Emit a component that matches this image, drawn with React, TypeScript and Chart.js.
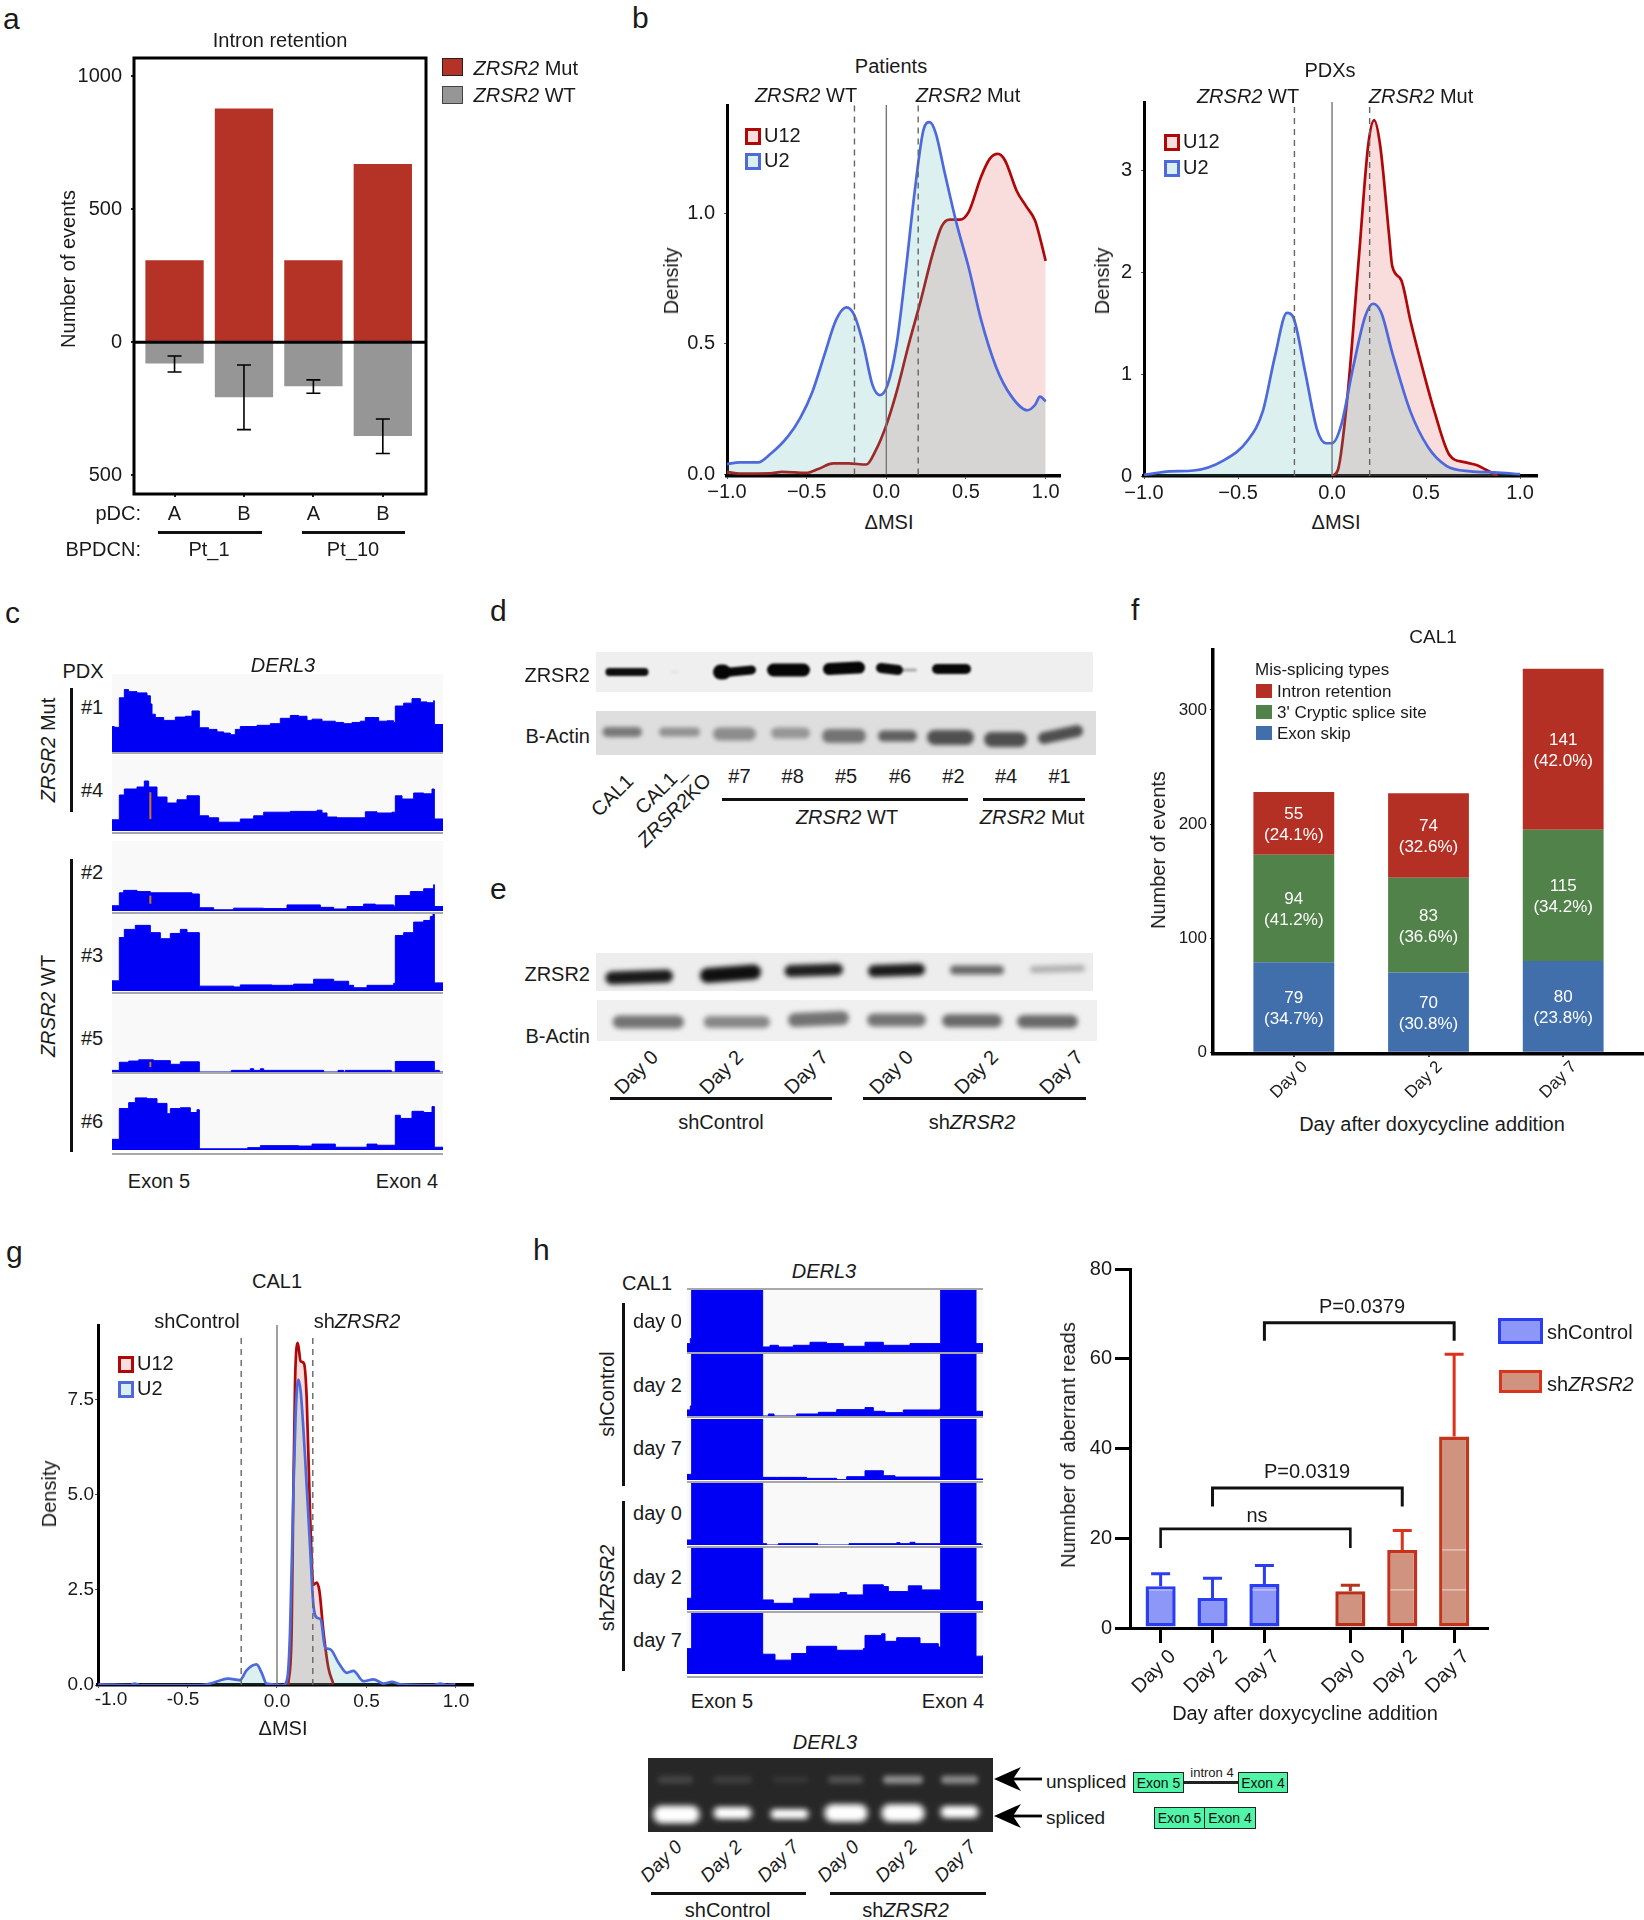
import React, { useEffect, useRef } from "react";
import { Chart, registerables } from "chart.js";

Chart.register(...registerables);

const FONT = '"Liberation Sans", Arial, sans-serif';
Chart.defaults.font.family = FONT;
Chart.defaults.color = "#1a1a1a";

/* ---------- panel a ---------- */
const aPdc = ["A", "B", "A", "B"];
const aMut = [308, 879, 308, 671];
const aWt = [-80, -207, -166, -353];
const aErrHigh = [-52, -86, -142, -289];
const aErrLow = [-112, -329, -192, -419];

/* ---------- panel b ---------- */
const bPatU2 = [[-1, 0.04], [-0.92, 0.046], [-0.805, 0.046], [-0.73, 0.077], [-0.616, 0.147], [-0.54, 0.217], [-0.465, 0.315], [-0.39, 0.455], [-0.314, 0.594], [-0.25, 0.64], [-0.2, 0.609], [-0.144, 0.497], [-0.087, 0.343], [-0.04, 0.304], [0.008, 0.343], [0.064, 0.497], [0.121, 0.776], [0.178, 1.084], [0.234, 1.322], [0.272, 1.35], [0.31, 1.308], [0.367, 1.154], [0.442, 0.959], [0.518, 0.79], [0.594, 0.594], [0.688, 0.413], [0.783, 0.301], [0.885, 0.246], [0.934, 0.267], [0.964, 0.298], [1, 0.28]];
const bPatU12 = [[-1, 0.01], [-0.92, 0.003], [-0.73, 0.004], [-0.654, 0.01], [-0.503, 0.006], [-0.427, 0.021], [-0.333, 0.042], [-0.238, 0.042], [-0.125, 0.038], [-0.068, 0.09], [0, 0.189], [0.064, 0.315], [0.14, 0.497], [0.215, 0.664], [0.291, 0.846], [0.348, 0.951], [0.397, 0.976], [0.461, 0.976], [0.518, 1.007], [0.594, 1.14], [0.65, 1.21], [0.7, 1.228], [0.745, 1.203], [0.82, 1.084], [0.877, 1.028], [0.934, 0.972], [0.972, 0.888], [1, 0.818]];
const bPdxU2 = [[-1, 0.01], [-0.864, 0.046], [-0.736, 0.054], [-0.576, 0.154], [-0.448, 0.35], [-0.368, 0.636], [-0.304, 1.171], [-0.24, 1.6], [-0.208, 1.564], [-0.144, 1.03], [-0.08, 0.457], [-0.032, 0.321], [0, 0.321], [0.048, 0.493], [0.112, 1.064], [0.176, 1.564], [0.218, 1.689], [0.262, 1.6], [0.32, 1.21], [0.416, 0.636], [0.512, 0.279], [0.608, 0.1], [0.736, 0.046], [0.864, 0.036], [1, 0.018]];
const bPdxU12 = [[0, 0], [0.032, 0.064], [0.08, 0.743], [0.144, 2.17], [0.192, 3.24], [0.224, 3.49], [0.256, 3.24], [0.304, 2.35], [0.32, 2.06], [0.368, 1.92], [0.416, 1.53], [0.48, 1.064], [0.544, 0.636], [0.624, 0.207], [0.704, 0.136], [0.768, 0.107], [0.816, 0.064], [0.88, 0]];
const msiTicks = [-1, -0.5, 0, 0.5, 1];
const msiGuides = [-0.2, 0.2];

/* ---------- panel c : coverage tracks ---------- */
const cTrack1 = [[335, 62], [342, 60], [357, 132], [372, 152], [385, 147], [410, 144], [440, 137], [450, 117], [455, 92], [465, 84], [490, 77], [525, 85], [555, 87], [575, 100], [597, 59], [625, 55], [650, 49], [670, 46], [690, 42], [705, 55], [720, 62], [770, 65], [810, 69], [840, 82], [870, 89], [895, 87], [920, 77], [935, 80], [965, 75], [980, 75], [1005, 72], [1030, 69], [1055, 72], [1080, 75], [1095, 84], [1125, 84], [1135, 75], [1160, 76], [1180, 72], [1185, 112], [1210, 119], [1235, 130], [1260, 122], [1280, 120], [1300, 125], [1302, 67], [1328, 62]];
const cTrack4 = [[335, 28], [357, 90], [372, 105], [410, 110], [432, 125], [445, 110], [470, 85], [500, 70], [530, 78], [560, 88], [597, 38], [625, 33], [655, 22], [715, 22], [720, 30], [760, 38], [790, 47], [870, 49], [950, 52], [965, 45], [980, 35], [1010, 33], [1075, 33], [1095, 48], [1130, 45], [1175, 47], [1185, 88], [1205, 80], [1240, 95], [1270, 93], [1295, 105], [1302, 30], [1328, 30]];
const cTrack2 = [[335, 13], [357, 45], [370, 51], [410, 48], [450, 45], [500, 45], [545, 45], [575, 42], [597, 8], [640, 3], [700, 7], [790, 6], [860, 15], [920, 15], [960, 9], [1000, 5], [1040, 11], [1090, 17], [1125, 15], [1180, 12], [1185, 38], [1230, 48], [1270, 55], [1300, 65], [1302, 11], [1328, 5]];
const cTrack3 = [[335, 25], [357, 132], [372, 152], [405, 162], [435, 162], [450, 144], [480, 129], [510, 142], [540, 152], [560, 144], [597, 12], [700, 10], [720, 15], [815, 14], [880, 17], [940, 29], [970, 29], [1000, 24], [1045, 14], [1060, 8], [1100, 14], [1180, 19], [1185, 137], [1210, 144], [1240, 170], [1270, 174], [1290, 184], [1298, 192], [1302, 20], [1328, 18]];
const cTrack5 = [[335, 4], [357, 24], [385, 27], [415, 30], [460, 28], [510, 19], [540, 25], [597, 0], [693, 4], [750, 8], [760, 4], [780, 8], [790, 4], [970, 0], [1013, 4], [1030, 0], [1035, 4], [1173, 0], [1185, 26], [1302, 4], [1317, 0], [1328, 0]];
const cTrack6 = [[335, 27], [357, 105], [385, 120], [405, 132], [440, 130], [470, 118], [500, 92], [510, 105], [540, 107], [570, 95], [590, 102], [597, 3], [742, 6], [780, 11], [895, 10], [935, 15], [965, 15], [1005, 7], [1100, 15], [1130, 12], [1185, 88], [1200, 80], [1235, 98], [1270, 95], [1295, 110], [1302, 7], [1328, 7]];
const cNames = ["#1", "#4", "#2", "#3", "#5", "#6"];
const cOrange = [null, [30, 97], [18, 38], null, [12, 25], null];

/* ---------- panels d, e : blots  [x0, y0, x1, y1, thickness, grey] ---------- */
const dZrsr2Bands = [[9.4, 20, 52.5, 20, 8, 15], [75, 20, 83, 20, 3, 228], [117, 20, 135, 20, 15, 6], [130, 20, 160, 18, 9, 8], [171, 18, 214, 18, 13, 6], [227, 17, 269, 15.6, 12, 6], [280, 16, 307, 18, 10, 10], [305, 18, 321, 18, 3, 170], [336, 17, 375, 17, 10, 8]];
const dActinBands = [[6.5, 21, 46, 21, 10, 120], [63, 21, 104, 21, 9, 145], [117, 23, 160, 23, 13, 140], [175, 22, 214, 22, 11, 150], [226, 25, 270, 25, 14, 115], [282, 25, 321, 25, 11, 95], [331, 26.5, 378, 26.5, 15, 80], [388, 28.4, 431, 28.4, 15, 78], [442, 27, 487, 20, 12, 78]];
const eZrsr2Bands = [[9.4, 25, 77, 23, 13, 25], [104, 22.5, 165, 19, 15, 15], [188.5, 18, 247, 16.4, 12, 30], [272, 18, 329, 16.4, 12, 25], [354, 17, 408, 17, 9, 100], [434, 16.4, 489, 15.3, 7, 175]];
const eActinBands = [[15.6, 22, 87, 22, 13, 115], [106.5, 22, 173, 22, 12, 135], [191, 20, 252, 18, 14, 115], [270, 20, 329, 20, 13, 115], [345, 20.7, 405, 20.7, 13, 105], [420, 21.5, 481, 21.5, 13, 105]];
const dLanes = ["#7", "#8", "#5", "#6", "#2", "#4", "#1"];
const days = ["Day 0", "Day 2", "Day 7"];

/* ---------- panel f ---------- */
const fDays = ["Day 0", "Day 2", "Day 7"];
const fExonSkip = [79, 70, 80];
const fCryptic = [94, 83, 115];
const fIntron = [55, 74, 141];
const fExonPct = ["(34.7%)", "(30.8%)", "(23.8%)"];
const fCrypticPct = ["(41.2%)", "(36.6%)", "(34.2%)"];
const fIntronPct = ["(24.1%)", "(32.6%)", "(42.0%)"];

/* ---------- panel g ---------- */
const gU12 = [[0.063, 0], [0.082, 1.42], [0.091, 4.92], [0.101, 7.98], [0.116, 8.98], [0.132, 8.5], [0.151, 8.44], [0.166, 7.52], [0.185, 4.46], [0.203, 2.63], [0.222, 2.69], [0.237, 2.47], [0.259, 1.42], [0.287, 0.45], [0.315, 0.03]];
const gU2 = [[-1, 0], [-0.99, 0.02], [-0.82, 0], [-0.795, 0.035], [-0.767, 0], [-0.43, 0], [-0.356, 0.06], [-0.319, 0.12], [-0.272, 0.166], [-0.207, 0.13], [-0.17, 0.385], [-0.114, 0.54], [-0.086, 0.324], [-0.058, 0.035], [0.035, 0], [0.058, 0.19], [0.073, 1.42], [0.091, 4.92], [0.104, 7.1], [0.119, 8.02], [0.132, 7.72], [0.157, 5.97], [0.185, 3.6], [0.203, 2.12], [0.222, 1.77], [0.244, 1.72], [0.269, 0.98], [0.297, 0.94], [0.343, 0.59], [0.39, 0.32], [0.427, 0.37], [0.483, 0.1], [0.539, 0.15], [0.595, 0.035], [0.642, 0.08], [0.688, 0.02], [0.875, 0], [0.912, 0.035], [0.95, 0], [0.996, 0.02]];

/* ---------- panel h : coverage ---------- */
const hCtl0 = [[501, 25], [511, 40], [515, 300], [728, 15], [750, 20], [775, 15], [820, 20], [870, 29], [920, 25], [970, 17], [1035, 29], [1090, 20], [1170, 25], [1260, 22], [1262, 300], [1368, 25], [1389, 18]];
const hCtl2 = [[501, 18], [511, 30], [515, 300], [728, 0], [745, 6], [762, 0], [830, 6], [895, 11], [950, 19], [1035, 25], [1060, 14], [1095, 10], [1150, 18], [1260, 23], [1262, 300], [1368, 14], [1389, 14]];
const hCtl7 = [[501, 17], [515, 300], [728, 8], [770, 8], [835, 8], [860, 5], [950, 1], [980, 10], [1035, 28], [1090, 13], [1125, 9], [1260, 7], [1262, 300], [1368, 3], [1389, 3]];
const hSh0 = [[501, 15], [515, 300], [728, 4], [740, 0], [775, 4], [893, 0], [987, 4], [1130, 7], [1140, 4], [1170, 8], [1185, 4], [1262, 300], [1368, 4], [1383, 0], [1389, 0]];
const hSh2 = [[501, 35], [515, 300], [728, 30], [760, 20], [820, 35], [870, 48], [960, 52], [980, 45], [1030, 75], [1090, 70], [1105, 55], [1165, 72], [1205, 60], [1262, 300], [1368, 25], [1389, 18]];
const hSh7 = [[501, 77], [515, 300], [728, 60], [765, 42], [815, 62], [860, 84], [915, 84], [950, 72], [1030, 77], [1035, 117], [1085, 122], [1095, 99], [1130, 110], [1200, 92], [1255, 82], [1262, 300], [1368, 54], [1389, 57]];
const hDays = ["day 0", "day 2", "day 7", "day 0", "day 2", "day 7"];

/* ---------- panel h : bars ---------- */
const hBarPos = [1, 2, 3, 4.656, 5.656, 6.656];
const hBarLabels = ["Day 0", "Day 2", "Day 7", "Day 0", "Day 2", "Day 7"];
const hMeans = [9.3, 6.7, 9.8, 8.2, 17.4, 42.7];
const hErrTop = [12.1, 11.06, 13.9, 9.5, 21.7, 61];
const hNs = [[1, 17.8], [1, 22.1], [4.656, 22.1], [4.656, 17.8]];
const hP0319 = [[2, 27.1], [2, 31.2], [5.656, 31.2], [5.656, 27.1]];
const hP0379 = [[3, 64], [3, 68], [6.656, 68], [6.656, 64]];
const hStreakBar = [0, 2, 4, 5, 5];
const hStreakVal = [8.5, 8.5, 8.5, 8.5, 17.4];

/* ---------- gel  [x0, y0, x1, y1, thickness, grey] ---------- */
const gelSpliced = [[7, 56.5, 50, 56.5, 15, 255], [67, 55, 102, 55, 10, 255], [124, 56, 159, 56, 8, 255], [178, 55, 218, 55, 15, 255], [235, 55, 275, 55, 15, 255], [294, 54, 329, 54, 10, 255]];
const gelHalo = [[3, 56.5, 54, 56.5, 21, 120], [63, 55, 106, 55, 15, 110], [120, 56, 163, 56, 13, 105], [174, 55, 222, 55, 21, 120], [231, 55, 279, 55, 21, 120], [290, 54, 333, 54, 15, 110]];
const gelUnspliced = [[10, 21.7, 45, 21.7, 8, 68], [65, 21.7, 104, 21.7, 7, 62], [125, 21.7, 160, 21.7, 5, 58], [180, 21.7, 215, 21.7, 7, 84], [235, 21.7, 275, 21.7, 8, 145], [293, 21.7, 330, 21.7, 8, 140]];

/* ========== helpers ========== */
const pts = (a) => a.map(([x, y]) => ({ x, y }));
const ticksAt = (vals) => (s) => { s.ticks = vals.map((v) => ({ value: v })); };

function Plot({ plot, margin, config, bg }) {
  const ref = useRef(null);
  const m = margin || { l: 0, t: 0, r: 0, b: 0 };
  const left = Math.round(plot.l - m.l);
  const top = Math.round(plot.t - m.t);
  const w = Math.round(plot.r - plot.l + m.l + m.r);
  const h = Math.round(plot.b - plot.t + m.t + m.b);
  useEffect(() => {
    const cfg = config();
    cfg.options = cfg.options || {};
    cfg.options.animation = false;
    cfg.options.responsive = false;
    cfg.options.maintainAspectRatio = false;
    cfg.options.events = [];
    cfg.options.layout = { padding: { top: m.t, right: m.r, left: 0, bottom: 0 } };
    cfg.options.plugins = { ...(cfg.options.plugins || {}), legend: { display: false }, tooltip: { enabled: false }, title: { display: false } };
    const sc = cfg.options.scales || {};
    if (sc.x && sc.x.display !== false) sc.x.afterFit = (s) => { s.height = m.b; };
    if (sc.y && sc.y.display !== false) sc.y.afterFit = (s) => { s.width = m.l; };
    const chart = new Chart(ref.current, cfg);
    return () => chart.destroy();
  }, []);
  return <canvas ref={ref} width={w} height={h} style={{ position: "absolute", left, top, width: w, height: h, background: bg || "transparent" }} />;
}

function T({ x, y, s = 20, a = "c", r = 0, i = false, c = "#1a1a1a", children }) {
  const tx = a === "c" ? -50 : a === "r" ? -100 : 0;
  return (
    <div style={{ position: "absolute", left: x, top: y, fontSize: s, fontStyle: i ? "italic" : "normal", color: c, lineHeight: 1, whiteSpace: "nowrap", transform: `translate(${tx}%,-50%) rotate(${r}deg)` }}>
      {children}
    </div>
  );
}
function Box({ x0, y0, x1, y1, bg, bd, bw = 0 }) {
  return <div style={{ position: "absolute", left: x0, top: y0, width: x1 - x0, height: y1 - y0, background: bg, boxSizing: "border-box", border: bw ? `${bw}px solid ${bd}` : "none" }} />;
}
const HL = ({ x0, x1, y, h = 3, c = "#111" }) => <Box x0={x0} x1={x1} y0={y - h / 2} y1={y + h / 2} bg={c} />;
const VL = ({ x, y0, y1, w = 3, c = "#111" }) => <Box x0={x - w / 2} x1={x + w / 2} y0={y0} y1={y1} bg={c} />;

function Arrow({ x, y }) {
  return (
    <svg width="50" height="24" style={{ position: "absolute", left: x, top: y - 12 }}>
      <polygon points="0,12 27,0 19,12 27,24" fill="#000" />
      <rect x="18" y="10.6" width="30" height="2.8" fill="#000" />
    </svg>
  );
}

const tickGrid = (len, width = 1, color = "#333") => ({ display: true, offset: false, drawOnChartArea: false, drawTicks: true, tickLength: len, tickWidth: width, tickColor: color, lineWidth: width, color });

function densityConfig({ u12, u2, xMax, yMin = 0, yMax, yTicks, yLabel, xLabel, guideTop, tickFont = 20, pad = 2, yPad = 9 }) {
  const line = (data, color, fillC, order) => ({ data: pts(data), borderColor: color, backgroundColor: fillC, borderWidth: 2.7, fill: "origin", pointRadius: 0, cubicInterpolationMode: "monotone", order });
  const guide = (x, top, dash, col, w) => ({ data: pts([[x, 0], [x, top]]), borderColor: col, borderWidth: w, borderDash: dash, pointRadius: 0, fill: false, order: 0 });
  return {
    type: "line",
    data: {
      datasets: [
        line(u2, "#4d69dc", "rgba(80,180,180,0.20)", 1),
        line(u12, "#b00808", "rgba(225,70,70,0.19)", 2),
        guide(msiGuides[0], guideTop, [6, 5], "#666", 1.4),
        guide(msiGuides[1], guideTop, [6, 5], "#666", 1.4),
        guide(0, yMax, [], "#777", 1.4),
      ],
    },
    options: {
      scales: {
        x: { type: "linear", min: -1, max: xMax, afterBuildTicks: ticksAt(msiTicks), grid: tickGrid(3, 1, "#555"), border: { display: true, color: "#000", width: 3.5 }, ticks: { autoSkip: false, maxRotation: 0, padding: pad, font: { size: tickFont }, callback: (v) => xLabel(v) } },
        y: { type: "linear", min: yMin, max: yMax, afterBuildTicks: ticksAt(yTicks), grid: tickGrid(3, 1, "#555"), border: { display: true, color: "#000", width: 3 }, ticks: { padding: yPad, font: { size: tickFont }, callback: (v) => yLabel(v) } },
      },
    },
  };
}

function igvConfig(track, xMin, xMax, yMax, orange) {
  const ds = [{ data: pts(track), stepped: "before", borderColor: "#0000f5", backgroundColor: "#0000f5", borderWidth: 1, fill: "origin", pointRadius: 0, order: 2 }];
  if (orange) ds.push({ data: pts([[450, orange[0]], [450, orange[1]]]), borderColor: "#cc7a1a", borderWidth: 2, pointRadius: 0, fill: false, order: 1 });
  return {
    type: "line",
    data: { datasets: ds },
    options: { scales: { x: { type: "linear", display: false, min: xMin, max: xMax }, y: { type: "linear", display: false, min: 0, max: yMax } } },
  };
}

function blotConfig(bandSets, w, h, blur) {
  const datasets = bandSets.flat().map(([x0, y0, x1, y1, t, g]) => ({
    data: pts([[x0 + t / 2, y0], [x1 - t / 2, y1]]),
    borderColor: `rgb(${g},${g},${g})`, borderWidth: t, borderCapStyle: "round", pointRadius: 0, fill: false,
  }));
  const blurPlugin = {
    id: "blur",
    beforeDatasetsDraw(c) { c.ctx.save(); c.ctx.filter = `blur(${blur}px)`; },
    afterDatasetsDraw(c) { c.ctx.restore(); },
  };
  return {
    type: "line",
    data: { datasets },
    plugins: [blurPlugin],
    options: { scales: { x: { type: "linear", display: false, min: 0, max: w }, y: { type: "linear", display: false, reverse: true, min: 0, max: h } } },
  };
}

const aConfig = () => ({
  type: "bar",
  data: {
    datasets: [
      { data: aMut.map((y, i) => ({ x: i + 1, y })), backgroundColor: "#b53226", barPercentage: 0.84, categoryPercentage: 1, grouped: false },
      { data: aWt.map((y, i) => ({ x: i + 1, y })), backgroundColor: "#969696", barPercentage: 0.84, categoryPercentage: 1, grouped: false },
    ],
  },
  plugins: [{
    id: "aDecor",
    afterDatasetsDraw(c) {
      const { ctx, chartArea: ar, scales: { x, y } } = c;
      ctx.save();
      ctx.strokeStyle = "#000";
      ctx.lineWidth = 1.6;
      aErrHigh.forEach((hi, i) => {
        const px = x.getPixelForValue(i + 1), p0 = y.getPixelForValue(hi), p1 = y.getPixelForValue(aErrLow[i]);
        ctx.beginPath();
        ctx.moveTo(px, p0); ctx.lineTo(px, p1);
        ctx.moveTo(px - 7, p0); ctx.lineTo(px + 7, p0);
        ctx.moveTo(px - 7, p1); ctx.lineTo(px + 7, p1);
        ctx.stroke();
      });
      ctx.lineWidth = 3;
      ctx.strokeRect(ar.left, ar.top, ar.right - ar.left, ar.bottom - ar.top);
      const z = y.getPixelForValue(0);
      ctx.beginPath(); ctx.moveTo(ar.left, z); ctx.lineTo(ar.right, z); ctx.stroke();
      ctx.restore();
    },
  }],
  options: {
    scales: {
      x: { type: "linear", offset: false, min: 0.416, max: 4.622, afterBuildTicks: ticksAt([1, 2, 3, 4]), grid: tickGrid(3, 2, "#222"), border: { display: false }, ticks: { autoSkip: false, maxRotation: 0, padding: 5, font: { size: 20 }, callback: (v) => aPdc[v - 1] } },
      y: { type: "linear", min: -571.4, max: 1069.5, afterBuildTicks: ticksAt([1000, 500, 0, -500]), grid: tickGrid(3, 2, "#222"), border: { display: false }, ticks: { padding: 9, font: { size: 20 }, callback: (v) => String(Math.abs(v)) } },
    },
  },
});

const fConfig = () => {
  const ds = (vals, color) => ({ data: vals.map((y, i) => ({ x: i + 1, y })), backgroundColor: color, barPercentage: 0.6, categoryPercentage: 1, stack: "s" });
  return {
    type: "bar",
    data: { datasets: [ds(fExonSkip, "#406fab"), ds(fCryptic, "#518249"), ds(fIntron, "#b53024")] },
    plugins: [{
      id: "fLabels",
      afterDatasetsDraw(c) {
        const { ctx, scales: { x, y } } = c;
        ctx.save();
        ctx.fillStyle = "#fff";
        ctx.font = `17px ${FONT}`;
        ctx.textAlign = "center";
        ctx.textBaseline = "middle";
        fDays.forEach((_, i) => {
          let base = 0;
          [[fExonSkip, fExonPct], [fCryptic, fCrypticPct], [fIntron, fIntronPct]].forEach(([vals, pct]) => {
            const mid = y.getPixelForValue(base + vals[i] / 2);
            const px = x.getPixelForValue(i + 1);
            ctx.fillText(String(vals[i]), px, mid - 9);
            ctx.fillText(pct[i], px, mid + 12);
            base += vals[i];
          });
        });
        ctx.restore();
      },
    }],
    options: {
      scales: {
        x: { type: "linear", offset: false, stacked: true, min: 0.4, max: 3.6, afterBuildTicks: ticksAt([1, 2, 3]), grid: tickGrid(3, 2, "#333"), border: { display: true, color: "#000", width: 3.5 }, ticks: { autoSkip: false, minRotation: 45, maxRotation: 45, padding: 0, labelOffset: 11, font: { size: 17 }, callback: (v) => fDays[v - 1] } },
        y: { type: "linear", stacked: true, min: -1.5, max: 352.5, afterBuildTicks: ticksAt([0, 100, 200, 300]), grid: tickGrid(3, 1, "#333"), border: { display: true, color: "#000", width: 3.5 }, ticks: { padding: 3, font: { size: 17 }, callback: (v) => String(v) } },
      },
    },
  };
};

const hBarConfig = () => {
  const fills = ["#8d97f7", "#8d97f7", "#8d97f7", "#cf9380", "#cf9380", "#cf9380"];
  const strokes = ["#2a3df2", "#2a3df2", "#2a3df2", "#b8301a", "#c4311c", "#c4351e"];
  const errC = ["#2a3df2", "#2a3df2", "#2a3df2", "#b8321d", "#d9341c", "#e0301a"];
  const bracket = (d, w) => ({ type: "line", data: pts(d), borderColor: "#111", borderWidth: w, pointRadius: 0, fill: false, order: 0 });
  return {
    type: "bar",
    data: {
      datasets: [
        { type: "bar", data: hMeans.map((y, i) => ({ x: hBarPos[i], y })), backgroundColor: fills, borderColor: strokes, borderWidth: 3.5, borderSkipped: false, barPercentage: 0.58, categoryPercentage: 1, order: 1 },
        bracket(hNs, 2.6), bracket(hP0319, 3), bracket(hP0379, 3),
      ],
    },
    plugins: [{
      id: "hDecor",
      beforeDatasetsDraw(c) {
        const { ctx, scales: { x, y } } = c;
        ctx.save();
        hErrTop.forEach((t, i) => {
          const px = x.getPixelForValue(hBarPos[i]), p0 = y.getPixelForValue(hMeans[i]), p1 = y.getPixelForValue(t);
          ctx.strokeStyle = errC[i];
          ctx.lineWidth = 3;
          ctx.beginPath();
          ctx.moveTo(px, p0); ctx.lineTo(px, p1);
          ctx.moveTo(px - 9.5, p1); ctx.lineTo(px + 9.5, p1);
          ctx.stroke();
        });
        ctx.restore();
      },
      afterDatasetsDraw(c) {
        const { ctx, scales: { x, y } } = c;
        ctx.save();
        ctx.strokeStyle = "rgba(255,255,255,0.45)";
        ctx.lineWidth = 1.5;
        hStreakBar.forEach((b, i) => {
          const px = x.getPixelForValue(hBarPos[b]), py = y.getPixelForValue(hStreakVal[i]);
          ctx.beginPath(); ctx.moveTo(px - 12, py); ctx.lineTo(px + 12, py); ctx.stroke();
        });
        ctx.restore();
      },
    }],
    options: {
      scales: {
        x: { type: "linear", offset: false, min: 0.41, max: 7.289, afterBuildTicks: ticksAt(hBarPos), grid: tickGrid(15, 3, "#000"), border: { display: true, color: "#000", width: 3 }, ticks: { autoSkip: false, minRotation: 45, maxRotation: 45, padding: 2, labelOffset: 12, font: { size: 20 }, callback: (v) => hBarLabels[hBarPos.indexOf(v)] } },
        y: { type: "linear", min: 0, max: 80, afterBuildTicks: ticksAt([0, 20, 40, 60, 80]), grid: tickGrid(15, 3, "#000"), border: { display: true, color: "#000", width: 3 }, ticks: { padding: 3, font: { size: 20 }, callback: (v) => String(v) } },
      },
    },
  };
};

const fmt1 = (v) => v.toFixed(1);
const minusFmt = (v) => (v < 0 ? "\u2212" : "") + Math.abs(v).toFixed(1);

const cRects = [[674, 751.5], [755, 831], [841, 910.5], [914, 990.5], [994.5, 1071], [1075, 1150]];
const cSeps = [752.7, 833, 912.5, 992.9, 1073, 1153.5];
const cLabelY = [707, 790, 872, 955, 1038, 1121];
const cTracks = [cTrack1, cTrack4, cTrack2, cTrack3, cTrack5, cTrack6];
const cMaxes = [190, 190, 173, 190, 190, 190];

const hRects = [[1290, 1352], [1354, 1416], [1419, 1480], [1483, 1545], [1548, 1610], [1613, 1674]];
const hSeps = [1353.3, 1417.3, 1482, 1547.3, 1611.7, 1676.7];
const hLabelY = [1320.7, 1385, 1448, 1512.7, 1576.7, 1640];
const hTracks = [hCtl0, hCtl2, hCtl7, hSh0, hSh2, hSh7];

const Legend = ({ x, y0, y1, tx }) => (
  <>
    <Box x0={x} x1={x + 16} y0={y0} y1={y0 + 17} bg="#f9dede" bd="#b00808" bw={3} />
    <Box x0={x} x1={x + 16} y0={y1} y1={y1 + 17} bg="#dcefef" bd="#4d69dc" bw={3} />
    <T x={tx} y={y0 + 7} a="l">U12</T>
    <T x={tx} y={y1 + 7} a="l">U2</T>
  </>
);
const Exon = ({ x0, x1, y0, y1, children }) => (
  <div style={{ position: "absolute", left: x0, top: y0, width: x1 - x0, height: y1 - y0, boxSizing: "border-box", background: "#50f5a8", border: "1.5px solid #222", fontSize: 14, display: "flex", alignItems: "center", justifyContent: "center", color: "#111", whiteSpace: "nowrap" }}>{children}</div>
);

export default function App() {
  return (
    <div style={{ position: "absolute", left: 0, top: 0, width: 1644, height: 1920, overflow: "hidden", background: "#fff", fontFamily: FONT, color: "#1a1a1a" }}>
      {/* panel letters */}
      <T x={3} y={19} s={30} a="l">a</T>
      <T x={632} y={18} s={30} a="l">b</T>
      <T x={5} y={613} s={30} a="l">c</T>
      <T x={490} y={611} s={30} a="l">d</T>
      <T x={490} y={889} s={30} a="l">e</T>
      <T x={1131} y={610} s={30} a="l">f</T>
      <T x={6} y={1252} s={30} a="l">g</T>
      <T x={533} y={1250} s={30} a="l">h</T>

      {/* a */}
      <Plot plot={{ l: 133.5, r: 425, t: 58, b: 494 }} margin={{ l: 70, t: 26, r: 14, b: 34 }} config={aConfig} />
      <T x={280} y={40}>Intron retention</T>
      <T x={68} y={269} r={-90}>Number of events</T>
      <T x={141} y={513} a="r">pDC:</T>
      <T x={141} y={549} a="r">BPDCN:</T>
      <HL x0={158} x1={261.5} y={532} />
      <HL x0={302} x1={405} y={532} />
      <T x={209} y={549}>Pt_1</T>
      <T x={353} y={549}>Pt_10</T>
      <Box x0={442} x1={463} y0={58} y1={76} bg="#b53226" bd="#222" bw={1.5} />
      <Box x0={442} x1={463} y0={86} y1={103.5} bg="#969696" bd="#444" bw={1.5} />
      <T x={473.5} y={68} a="l"><i>ZRSR2</i> Mut</T>
      <T x={473.5} y={95} a="l"><i>ZRSR2</i> WT</T>

      {/* b left */}
      <Plot plot={{ l: 726.6, r: 1060, t: 105, b: 476 }} margin={{ l: 60, t: 26, r: 20, b: 34 }} config={() => densityConfig({ u12: bPatU12, u2: bPatU2, xMax: 1.09, yMin: -0.006, yMax: 1.4155, yTicks: [0, 0.5, 1], yLabel: fmt1, xLabel: minusFmt, guideTop: 1.4155, pad: 1 })} />
      <T x={891} y={66}>Patients</T>
      <T x={806} y={95}><i>ZRSR2</i> WT</T>
      <T x={968} y={95}><i>ZRSR2</i> Mut</T>
      <Legend x={745} y0={128} y1={153} tx={764} />
      <T x={671} y={281} r={-90}>Density</T>
      <T x={889} y={522}>{"\u0394MSI"}</T>

      {/* b right */}
      <Plot plot={{ l: 1144, r: 1537, t: 102, b: 476 }} margin={{ l: 40, t: 26, r: 20, b: 34 }} config={() => densityConfig({ u12: bPdxU12, u2: bPdxU2, xMax: 1.09, yMax: 3.667, yTicks: [0, 1, 2, 3], yLabel: (v) => String(v), xLabel: minusFmt, guideTop: 3.667 })} />
      <T x={1330} y={70}>PDXs</T>
      <T x={1248} y={96}><i>ZRSR2</i> WT</T>
      <T x={1421} y={96}><i>ZRSR2</i> Mut</T>
      <Legend x={1164} y0={134} y1={160} tx={1183} />
      <T x={1102} y={281} r={-90}>Density</T>
      <T x={1336} y={522}>{"\u0394MSI"}</T>

      {/* c */}
      {cTracks.map((tr, i) => (
        <React.Fragment key={i}>
          <Plot plot={{ l: 112, r: 443, t: cRects[i][0], b: cRects[i][1] }} bg="#f9f9f9" config={() => igvConfig(tr, 335, 1328, cMaxes[i], cOrange[i])} />
          <HL x0={112} x1={443} y={cSeps[i]} h={2} c="#a8a8a8" />
          <T x={81} y={cLabelY[i]} a="l">{cNames[i]}</T>
        </React.Fragment>
      ))}
      <T x={83} y={671}>PDX</T>
      <T x={283} y={665}><i>DERL3</i></T>
      <T x={159} y={1181}>Exon 5</T>
      <T x={407} y={1181}>Exon 4</T>
      <T x={48} y={750} r={-90}><i>ZRSR2</i> Mut</T>
      <T x={48} y={1006} r={-90}><i>ZRSR2</i> WT</T>
      <VL x={71} y0={688} y1={812} />
      <VL x={71} y0={859} y1={1152} />

      {/* d */}
      <Plot plot={{ l: 596, r: 1093, t: 652, b: 692 }} bg="#efefef" config={() => blotConfig([dZrsr2Bands], 497, 40, 1.2)} />
      <Plot plot={{ l: 596, r: 1096, t: 711, b: 755 }} bg="#dedede" config={() => blotConfig([dActinBands], 500, 44, 2)} />
      <T x={590} y={675} a="r">ZRSR2</T>
      <T x={590} y={736} a="r">B-Actin</T>
      <T x={612} y={795} r={-45}>CAL1</T>
      <T x={660} y={789} r={-45}>CAL1_</T>
      <T x={674} y={810} r={-45}><i>ZRSR2</i>KO</T>
      {dLanes.map((n, i) => <T key={i} x={[739.4, 792.7, 846, 900, 953.4, 1006, 1059.5][i]} y={776}>{n}</T>)}
      <HL x0={722} x1={968} y={799} />
      <HL x0={982.5} x1={1085} y={799} />
      <T x={847} y={817}><i>ZRSR2</i> WT</T>
      <T x={1032} y={817}><i>ZRSR2</i> Mut</T>

      {/* e */}
      <Plot plot={{ l: 596, r: 1093, t: 953, b: 991 }} bg="#ededed" config={() => blotConfig([eZrsr2Bands], 497, 38, 2.5)} />
      <Plot plot={{ l: 597, r: 1097, t: 1000, b: 1041 }} bg="#f0f0f0" config={() => blotConfig([eActinBands], 500, 41, 2.5)} />
      <T x={590} y={974} a="r">ZRSR2</T>
      <T x={590} y={1036} a="r">B-Actin</T>
      {[...days, ...days].map((d, i) => <T key={i} x={[636, 720.5, 805.5, 890.5, 975.5, 1060.5][i]} y={1072} r={-45}>{d}</T>)}
      <HL x0={610} x1={832} y={1098.5} />
      <HL x0={863} x1={1086} y={1098.5} />
      <T x={721} y={1122}>shControl</T>
      <T x={972} y={1122}>sh<i>ZRSR2</i></T>

      {/* f */}
      <Plot plot={{ l: 1213, r: 1644, t: 650, b: 1054 }} margin={{ l: 50, t: 14, r: 0, b: 50 }} config={fConfig} />
      <T x={1433} y={636} s={19}>CAL1</T>
      <T x={1255} y={669} s={17} a="l">Mis-splicing types</T>
      <Box x0={1256} x1={1271.5} y0={684} y1={698} bg="#b53024" />
      <Box x0={1256} x1={1271.5} y0={705} y1={719} bg="#518249" />
      <Box x0={1256} x1={1271.5} y0={726} y1={740} bg="#406fab" />
      <T x={1277} y={691} s={17} a="l">Intron retention</T>
      <T x={1277} y={712} s={17} a="l">3' Cryptic splice site</T>
      <T x={1277} y={733} s={17} a="l">Exon skip</T>
      <T x={1158} y={850} r={-90}>Number of events</T>
      <T x={1432} y={1124}>Day after doxycycline addition</T>

      {/* g */}
      <Plot plot={{ l: 97.7, r: 472.7, t: 1325, b: 1685 }} margin={{ l: 60, t: 14, r: 20, b: 34 }} config={() => densityConfig({ u12: gU12, u2: gU2, xMax: 1.095, yMax: 9.45, yTicks: [0, 2.5, 5, 7.5], yLabel: fmt1, xLabel: (v) => (v < 0 ? "" : v.toFixed(1)), guideTop: 9.2, tickFont: 19, pad: 2, yPad: 1 })} />
      <T x={111} y={1698} s={19}>-1.0</T>
      <T x={183} y={1698} s={19}>-0.5</T>
      <T x={277} y={1281}>CAL1</T>
      <T x={197} y={1321}>shControl</T>
      <T x={357} y={1321}>sh<i>ZRSR2</i></T>
      <Legend x={118} y0={1356} y1={1381} tx={137} />
      <T x={49} y={1494} r={-90}>Density</T>
      <T x={283} y={1728}>{"\u0394MSI"}</T>

      {/* h tracks */}
      {hTracks.map((tr, i) => (
        <React.Fragment key={i}>
          <Plot plot={{ l: 687, r: 983, t: hRects[i][0], b: hRects[i][1] }} bg="#f9f9f9" config={() => igvConfig(tr, 501, 1389, 185, null)} />
          <HL x0={687} x1={983} y={hSeps[i]} h={2} c="#a8a8a8" />
          <T x={682} y={hLabelY[i]} a="r">{hDays[i]}</T>
        </React.Fragment>
      ))}
      <HL x0={687} x1={983} y={1289} h={2} c="#a8a8a8" />
      <T x={824} y={1271}><i>DERL3</i></T>
      <T x={647} y={1283}>CAL1</T>
      <T x={607} y={1394} r={-90}>shControl</T>
      <T x={607} y={1588} r={-90}>sh<i>ZRSR2</i></T>
      <VL x={623} y0={1303} y1={1486} />
      <VL x={623} y0={1501} y1={1671} />
      <T x={722} y={1701}>Exon 5</T>
      <T x={953} y={1701}>Exon 4</T>

      {/* h bars */}
      <Plot plot={{ l: 1130, r: 1487, t: 1268.5, b: 1627 }} margin={{ l: 60, t: 22, r: 10, b: 76 }} config={hBarConfig} />
      <T x={1362} y={1306}>P=0.0379</T>
      <T x={1307} y={1471}>P=0.0319</T>
      <T x={1257} y={1515}>ns</T>
      <T x={1068} y={1445} r={-90}><span style={{ whiteSpace: "pre" }}>Numnber of  aberrant reads</span></T>
      <T x={1305} y={1713}>Day after doxycycline addition</T>
      <Box x0={1498} x1={1543} y0={1318} y1={1344} bg="#8d97f7" bd="#2a3df2" bw={3.5} />
      <Box x0={1499} x1={1542} y0={1370} y1={1393} bg="#cf9380" bd="#d9341c" bw={3.5} />
      <T x={1547} y={1332} a="l">shControl</T>
      <T x={1547} y={1384} a="l">sh<i>ZRSR2</i></T>

      {/* gel */}
      <Plot plot={{ l: 648, r: 993, t: 1758, b: 1832 }} bg="#272727" config={() => blotConfig([gelUnspliced, gelSpliced, gelHalo], 345, 74, 2.4)} />
      <T x={825} y={1742}><i>DERL3</i></T>
      <Arrow x={994} y={1779} />
      <Arrow x={994} y={1816} />
      <T x={1046} y={1781} s={19} a="l">unspliced</T>
      <T x={1046} y={1817} s={19} a="l">spliced</T>
      <Box x0={1184} x1={1238} y0={1781} y1={1783.5} bg="#222" />
      <T x={1212} y={1772} s={13}>intron 4</T>
      <Exon x0={1133} x1={1184} y0={1772} y1={1793}>Exon 5</Exon>
      <Exon x0={1238} x1={1288} y0={1772} y1={1793}>Exon 4</Exon>
      <Exon x0={1154} x1={1205} y0={1807} y1={1829}>Exon 5</Exon>
      <Exon x0={1204} x1={1256} y0={1807} y1={1829}>Exon 4</Exon>
      {[...days, ...days].map((d, i) => <T key={i} x={[661, 721, 778, 837.5, 895.8, 955.4][i]} y={1861} s={19} r={-45} i>{d}</T>)}
      <HL x0={650.5} x1={806} y={1893.5} />
      <HL x0={830} x1={986} y={1893.5} />
      <T x={727.6} y={1910}>shControl</T>
      <T x={905.6} y={1910}>sh<i>ZRSR2</i></T>
    </div>
  );
}
